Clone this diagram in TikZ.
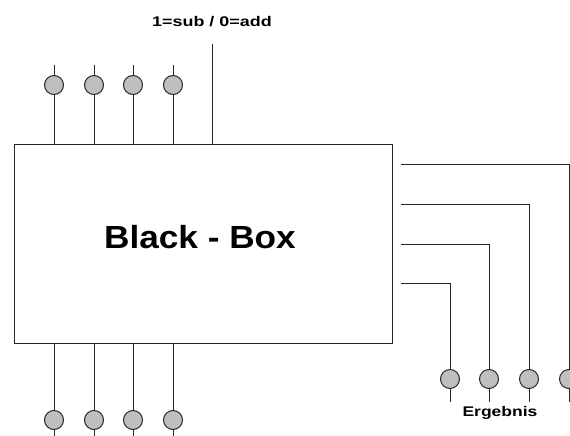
\documentclass[tikz,border=0pt]{standalone}
\usepackage{fontspec}
\setmainfont{Liberation Sans}
\begin{document}
\begin{tikzpicture}[x=1pt,y=-1pt,line width=1pt,
  ball/.style={circle,draw=black!85,fill=black!25,minimum size=19pt,inner sep=0pt},
  wire/.style={draw=black!85},
  lbl/.style={font=\bfseries\fontsize{14}{16}\selectfont,inner sep=0pt}]
\useasboundingbox (0,0) rectangle (570,436);
\node[draw=black!85,minimum width=378pt,minimum height=199pt,anchor=north west,inner sep=0pt] (box) at (14,144) {};
\node[inner sep=0pt,font=\bfseries\fontsize{32}{36}\selectfont] (title) at (200,237) {\scalebox{1.1}[1]{Black - Box}};
% top inputs
\foreach \i/\x in {1/54,2/94,3/133,4/173}{
  \node[ball] (t\i) at (\x,85) {};
  \coordinate (ts\i) at (\x,65);
  \draw[wire] (t\i) -- (ts\i);
  \draw[wire] (t\i) -- (t\i |- box.north);
  \node[ball] (b\i) at (\x,420) {};
  \coordinate (bs\i) at (\x,437);
  \draw[wire] (b\i) -- (bs\i);
  \draw[wire] (b\i) -- (b\i |- box.south);
}
% control
\coordinate (cs) at (212,44);
\draw[wire] (cs) -- (cs |- box.north);
\node[lbl] (ctl) at (212,22) {\scalebox{1.28}[1]{1=sub / 0=add}};
% outputs
\foreach \i/\x/\y in {1/450/283,2/489/244,3/529/204,4/569/164}{
  \coordinate (os\i) at (401,\y);
  \node[ball] (o\i) at (\x,379) {};
  \coordinate (oe\i) at (\x,402);
  \draw[wire] (os\i) -| (o\i);
  \draw[wire] (o\i) -- (oe\i);
}
\node[lbl] (erg) at (500,413) {\scalebox{1.25}[1]{Ergebnis}};
\end{tikzpicture}
\end{document}
